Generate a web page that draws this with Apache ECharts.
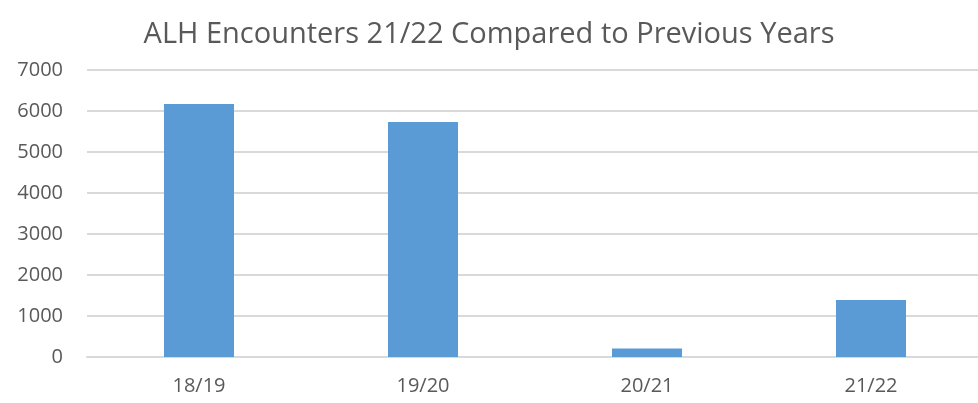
<!DOCTYPE html>
<html>
<head>
<meta charset="utf-8">
<script src="https://cdn.jsdelivr.net/npm/echarts@6/dist/echarts.min.js"></script>
<style>
    html, body { margin: 0; padding: 0; background: #fff; }
    #chart { width: 978px; height: 403px; }
</style>
</head>
<body>
<div id="chart"></div>
<script>
    var seasons = ['18/19', '19/20', '20/21', '21/22'];
    var encounters = [6170, 5730, 210, 1390];

    var myChart = echarts.init(document.getElementById('chart'));
    var option = {
        animation: false,
        title: {
            text: 'ALH Encounters 21/22 Compared to Previous Years',
            left: 'center',
            top: 15,
            textStyle: {
                fontFamily: 'Open Sans',
                fontWeight: 'normal',
                fontSize: 29,
                color: '#595959'
            }
        },
        grid: {
            left: 87,
            width: 896,
            top: 70,
            bottom: 46,
            outerBoundsMode: 'none'
        },
        xAxis: {
            type: 'category',
            data: seasons,
            axisTick: { show: false },
            axisLine: { lineStyle: { color: '#d9d9d9', width: 2 } },
            axisLabel: {
                margin: 19,
                fontFamily: 'Open Sans',
                fontSize: 20,
                color: '#595959'
            }
        },
        yAxis: {
            type: 'value',
            min: 0,
            max: 7000,
            interval: 1000,
            axisLine: { show: false },
            axisTick: { show: false },
            splitLine: { lineStyle: { color: '#d9d9d9', width: 2 } },
            axisLabel: {
                margin: 24,
                fontFamily: 'Open Sans',
                fontSize: 20,
                color: '#595959',
                formatter: function (v) { return String(v); }
            }
        },
        series: [{
            type: 'bar',
            data: encounters,
            barWidth: 70,
            itemStyle: { color: '#5b9bd5' }
        }]
    };
    myChart.setOption(option);
</script>
</body>
</html>
